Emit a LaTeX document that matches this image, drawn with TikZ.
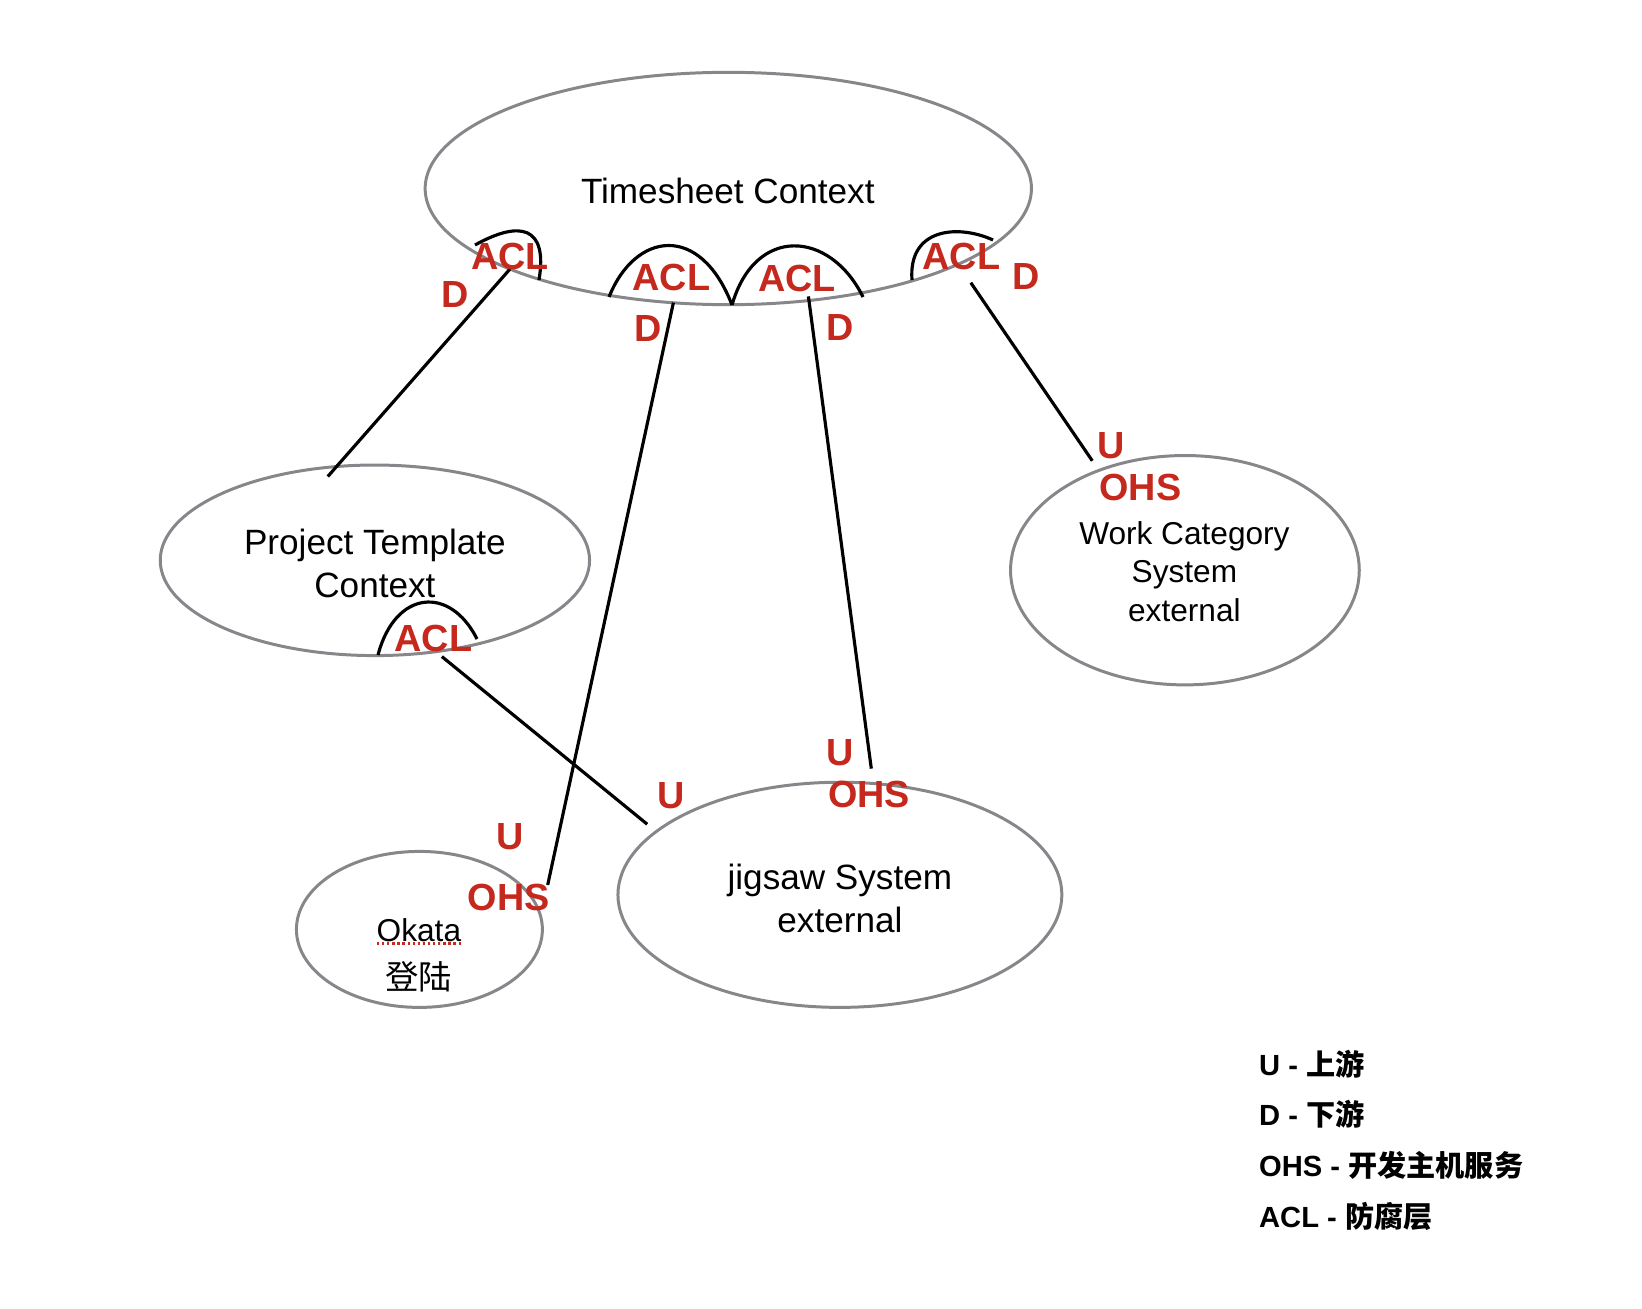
\documentclass[tikz,border=0pt]{standalone}
\usepackage{fontspec}
\setmainfont{Liberation Sans}
\newfontfamily\cjk{Noto Sans CJK SC}
\usetikzlibrary{shapes.geometric}
\definecolor{lblred}{RGB}{197,40,28}
\definecolor{ellgray}{RGB}{134,134,139}
\tikzset{
  ctx/.style={ellipse, draw=ellgray, line width=1.7pt, inner sep=0pt, outer sep=0pt},
  link/.style={draw=black, line width=1.8pt},
  aclarc/.style={draw=black, line width=1.8pt},
  rl/.style={text=lblred, font=\fontsize{21.5}{24}\selectfont\bfseries, inner sep=0pt},
  body/.style={font=\fontsize{20}{24.5}\selectfont, inner sep=0pt, align=center},
  wbody/.style={font=\fontsize{18}{22}\selectfont, inner sep=0pt, align=center},
  legend/.style={font=\fontsize{16.6}{19}\selectfont\bfseries, inner sep=0pt, anchor=west}
}
\begin{document}
\begin{tikzpicture}[x=0.02cm,y=-0.02cm]
\useasboundingbox (0,0) rectangle (1642,1308);
% ellipses
\node[ctx, minimum width=12.128cm, minimum height=4.648cm] (ts) at (728.3,188.5) {};
\node[ctx, minimum width=8.588cm, minimum height=3.812cm] (pt) at (374.9,560.3) {};
\node[ctx, minimum width=6.976cm, minimum height=4.588cm] (wc) at (1184.9,570.2) {};
\node[ctx, minimum width=8.88cm, minimum height=4.504cm] (jg) at (839.9,894.8) {};
\node[ctx, minimum width=4.92cm, minimum height=3.12cm] (ok) at (419.4,929.4) {};
% texts
\node[body] (tst) at (727.8,190.6) {Timesheet Context};
\node[body] (ptt) at (374.9,563) {Project Template\\Context};
\node[wbody] (wct) at (1184.4,571.5) {Work Category\\System\\external};
\node[body] (jgt) at (839.9,898.5) {jigsaw System\\external};
\node[wbody] (okt) at (418.9,930) {Okata};
\node[font=\cjk\fontsize{19}{22}\selectfont, inner sep=0pt] (okc) at (418.9,977) {登陆};
\coordinate (uA) at (377,943.5);
\coordinate (uB) at (461,943.5);
\draw[lblred, line width=1.2pt, dash pattern=on 1.3pt off 1.6pt] (uA) -- (uB);
% ACL arcs
\coordinate (a1s) at (475,245); \coordinate (a1e) at (539,280);
\draw[aclarc] (a1s) .. controls (520,220) and (548,226) .. (a1e);
\coordinate (a2s) at (609,297); \coordinate (a2e) at (732,305);
\draw[aclarc] (a2s) .. controls (635,232) and (700,222) .. (a2e);
\coordinate (a3e) at (863,297);
\draw[aclarc] (a2e) .. controls (755,225) and (830,230) .. (a3e);
\coordinate (a4s) at (912,280); \coordinate (a4e) at (993,240);
\draw[aclarc] (a4s) .. controls (908,228) and (958,224) .. (a4e);
\coordinate (a5s) at (378,655); \coordinate (a5e) at (477,639);
\draw[aclarc] (a5s) .. controls (395,590) and (450,585) .. (a5e);
% connectors
\coordinate (c1a) at (510,269);   \coordinate (c1b) at (327.8,476.5);
\coordinate (c2a) at (673.4,302.6); \coordinate (c2b) at (547.7,884.9);
\coordinate (c3a) at (808.4,296.4); \coordinate (c3b) at (871.3,768.6);
\coordinate (c4a) at (970.8,282.7); \coordinate (c4b) at (1092.3,460.8);
\coordinate (c5a) at (441.9,656.6); \coordinate (c5b) at (647.2,824.2);
\draw[link] (c1a) -- (c1b);
\draw[link] (c2a) -- (c2b);
\draw[link] (c3a) -- (c3b);
\draw[link] (c4a) -- (c4b);
\draw[link] (c5a) -- (c5b);
% red labels
\node[rl] (l1) at (510,256.6) {ACL};
\node[rl] (l2) at (455.5,294.3) {D};
\node[rl] (l3) at (671.3,277.5) {ACL};
\node[rl] (l4) at (648.2,328.8) {D};
\node[rl] (l5) at (797,278.6) {ACL};
\node[rl] (l6) at (839.9,327.8) {D};
\node[rl] (l7) at (961.3,256.6) {ACL};
\node[rl] (l8) at (1026.3,276.5) {D};
\node[rl] (l9) at (1111,446.1) {U};
\node[rl] (l10) at (1140.4,487) {OHS};
\node[rl] (l11) at (433.5,638.8) {ACL};
\node[rl] (l12) at (839.9,752.9) {U};
\node[rl] (l13) at (869.2,794.8) {OHS};
\node[rl] (l14) at (671.3,795.9) {U};
\node[rl] (l15) at (510,836.7) {U};
\node[rl] (l16) at (508.9,897.5) {OHS};
% legend
\node[legend] (g1) at (1258.8,1064) {U - {\cjk\bfseries 上游}};
\node[legend] (g2) at (1258.8,1114.2) {D - {\cjk\bfseries 下游}};
\node[legend] (g3) at (1258.8,1165.5) {OHS - {\cjk\bfseries 开发主机服务}};
\node[legend] (g4) at (1258.8,1216.9) {ACL - {\cjk\bfseries 防腐层}};
\end{tikzpicture}
\end{document}
